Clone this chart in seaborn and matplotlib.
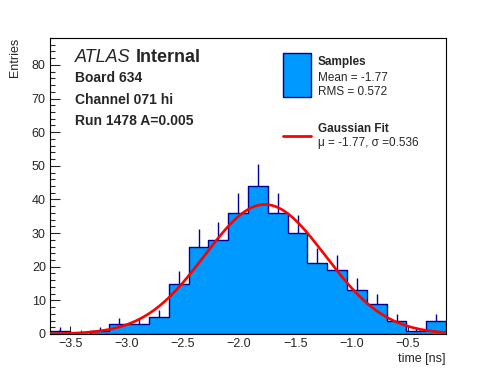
import numpy as np
import pandas as pd
import seaborn as sns
import matplotlib.pyplot as plt
from matplotlib.patches import Rectangle
from matplotlib.lines import Line2D
from matplotlib.ticker import MultipleLocator

# histogram: 20 bins between x_lo and x_hi
x_lo, x_hi = -3.68, -0.16
counts = [1, 0, 1, 3, 3, 5, 15, 26, 28, 36, 44, 36, 30, 21, 19, 13, 9, 4, 1, 4]
edges = np.linspace(x_lo, x_hi, len(counts) + 1)
centers = 0.5 * (edges[:-1] + edges[1:])

# fit parameters shown in the legend
mu, sigma, amp = -1.77, 0.536, 38.5

df = pd.DataFrame({"time": centers, "n": counts})

sns.set_style("white")
plt.rcParams["font.family"] = ["Liberation Sans", "DejaVu Sans"]

fig = plt.figure(figsize=(4.96, 3.72), dpi=100)
ax = fig.add_axes([50 / 496, 1 - 334 / 372, 396 / 496, 296 / 372])

fill_c = "#0099ff"
edge_c = "#000099"

sns.histplot(data=df, x="time", weights="n", bins=edges.tolist(), element="step",
             fill=True, color=fill_c, edgecolor=edge_c, linewidth=1.0,
             alpha=1, ax=ax)

# poisson error bars, only the upper half sticks out of the filled hist
n = np.array(counts, dtype=float)
ax.vlines(centers[n > 0], n[n > 0], n[n > 0] + np.sqrt(n[n > 0]),
          color=edge_c, linewidth=1.0, zorder=3)

xs = np.linspace(x_lo, x_hi, 300)
gauss = pd.DataFrame({"t": xs, "f": amp * np.exp(-0.5 * ((xs - mu) / sigma) ** 2)})
sns.lineplot(data=gauss, x="t", y="f", color="red", linewidth=1.9, ax=ax, zorder=4)

ax.set_xlim(x_lo, x_hi)
ax.set_ylim(0, 88)
ax.xaxis.set_major_locator(MultipleLocator(0.5))
ax.xaxis.set_minor_locator(MultipleLocator(0.1))
ax.yaxis.set_major_locator(MultipleLocator(10))
ax.yaxis.set_minor_locator(MultipleLocator(2))
ax.tick_params(axis="y", which="major", direction="in", length=7.5, width=0.8,
               labelsize=9, pad=3, left=True)
ax.tick_params(axis="y", which="minor", direction="in", length=3.8, width=0.8, left=True)
ax.tick_params(axis="x", which="major", direction="in", length=6, width=0.8,
               labelsize=9, pad=3, bottom=True)
ax.tick_params(axis="x", which="minor", direction="in", length=3, width=0.8, bottom=True)
for s in ax.spines.values():
    s.set_color("black")
    s.set_linewidth(0.8)

ax.set_xlabel("time [ns]", fontsize=9, loc="right", labelpad=2)
ax.set_ylabel("Entries", fontsize=9, loc="top", labelpad=8)

# ATLAS label block
fig.text(75 / 496, 1 - 62 / 372, "ATLAS", fontsize=13, style="italic", va="baseline")
fig.text(136 / 496, 1 - 62 / 372, "Internal", fontsize=13, weight="bold", va="baseline")
info = ["Board 634", "Channel 071 hi", "Run 1478 A=0.005"]
for i, line in enumerate(info):
    fig.text(75 / 496, 1 - (82 + 21.7 * i) / 372, line, fontsize=10,
             weight="bold", va="baseline")

# legend drawn by hand like the ROOT one
fig.add_artist(Rectangle((283 / 496, 1 - 97 / 372), 28 / 496, 44 / 372,
                         transform=fig.transFigure, facecolor=fill_c,
                         edgecolor=edge_c, linewidth=1))
fig.text(318 / 496, 1 - 65 / 372, "Samples", fontsize=8.5, weight="bold", va="baseline")
fig.text(318 / 496, 1 - 81 / 372, "Mean = -1.77", fontsize=8.5, va="baseline")
fig.text(318 / 496, 1 - 95 / 372, "RMS = 0.572", fontsize=8.5, va="baseline")
fig.add_artist(Line2D([283 / 496, 311 / 496], [1 - 136 / 372] * 2,
                      transform=fig.transFigure, color="red", linewidth=2))
fig.text(318 / 496, 1 - 132 / 372, "Gaussian Fit", fontsize=8.5, weight="bold", va="baseline")
fig.text(318 / 496, 1 - 146 / 372, "\u03bc = -1.77, \u03c3 =0.536", fontsize=8.5, va="baseline")

fig.savefig("out.png", dpi=100)
